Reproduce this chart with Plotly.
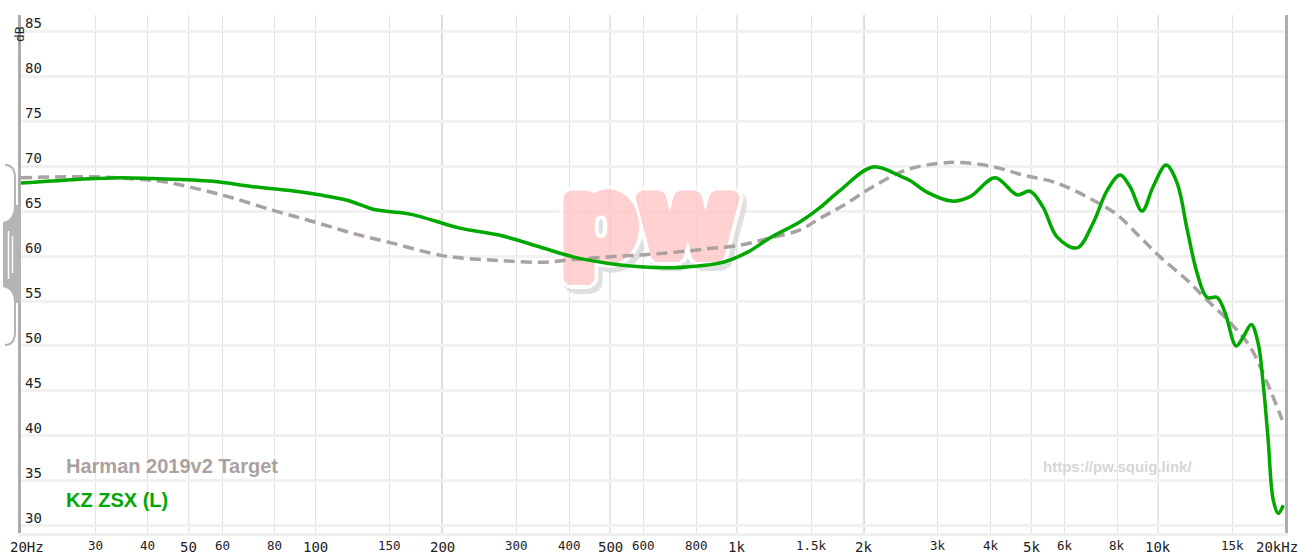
"""
Frequency response graph (squig.link style): KZ ZSX (L) vs Harman 2019v2 target.
"""
import numpy as np
import plotly.graph_objects as go

# KZ ZSX (L) measurement
kz_freq = [20, 30, 34.4, 41, 57, 71, 86, 102, 119, 137, 153, 170, 220, 274, 341,
           409, 492, 589, 706, 850, 928, 1058, 1198, 1413, 1577, 1758, 2104, 2439,
           2577, 2826, 3243, 3578, 4102, 4624, 4966, 5333, 5757, 6423, 7012, 7568,
           8121, 8576, 9162, 9727, 10443, 11092, 11722, 12372, 13064, 13804, 14416,
           15312, 15918, 16634, 17272, 17744, 18240, 18752, 19278, 19816]
kz_db = [68.1, 68.6, 68.7, 68.6, 68.3, 67.7, 67.3, 66.8, 66.2, 65.2, 64.9, 64.6, 63.1,
         62.3, 61.0, 59.9, 59.2, 58.8, 58.7, 59.0, 59.3, 60.4, 62.0, 63.8, 65.4, 67.3,
         69.9, 68.9, 68.4, 67.1, 66.1, 66.6, 68.7, 66.8, 67.2, 65.4, 62.1, 60.9, 63.7,
         67.3, 69.0, 67.7, 65.0, 67.7, 70.1, 68.1, 62.9, 58.1, 55.4, 55.4, 53.7, 50.0,
         51.0, 52.4, 50.3, 45.9, 39.6, 32.9, 31.4, 32.3]

# Harman 2019v2 target
harman_freq = [20, 30, 36, 43, 51, 62, 79, 99, 123, 153, 197, 220, 274, 341, 409, 492,
               589, 706, 850, 1018, 1198, 1413, 1577, 1788, 2104, 2536, 3036, 3332,
               3990, 4778, 5757, 7012, 7984, 9058, 10112, 11722, 13064, 14826, 16526,
               18146, 19690]
harman_db = [68.7, 68.8, 68.6, 68.3, 67.6, 66.6, 65.1, 63.8, 62.5, 61.4, 60.1, 59.8,
             59.5, 59.3, 59.6, 59.9, 60.1, 60.4, 60.8, 61.2, 62.0, 62.9, 64.2, 65.6,
             67.7, 69.6, 70.3, 70.4, 70.0, 69.0, 68.1, 66.2, 64.6, 62.1, 59.9, 57.3,
             55.1, 52.6, 49.9, 45.9, 41.8]

y_ticks = [30, 35, 40, 45, 50, 55, 60, 65, 70, 75, 80, 85]
x_major = [20, 50, 100, 200, 500, 1000, 2000, 5000, 10000, 20000]
x_major_labels = ["20Hz", "50", "100", "200", "500", "1k", "2k", "5k", "10k", "20kHz"]
x_minor = [30, 40, 60, 80, 150, 300, 400, 600, 800, 1500, 3000, 4000, 6000, 8000, 15000]
x_minor_labels = ["30", "40", "60", "80", "150", "300", "400", "600", "800", "1.5k",
                  "3k", "4k", "6k", "8k", "15k"]

GREEN = "#00a800"
TARGET_GREY = "#aaa1a1"
MONO = "DejaVu Sans Mono"

# plot area in pixels
W, H = 1299, 560
L, R, T, B = 21, 1285, 15, 533


def px(x):
    return (x - L) / (R - L)


def py(y):
    return (B - y) / (B - T)


def ring(radius, color, dx=0, dy=0, blur=0, steps=16):
    """Text-shadow ring used to thicken / outline the watermark glyphs."""
    out = []
    for k in range(steps):
        a = 2 * np.pi * k / steps
        out.append(f"{dx + radius * np.cos(a):.1f}px {dy + radius * np.sin(a):.1f}px {blur}px {color}")
    return out


PINK = "#ffc6c6"
watermark_shadow = ", ".join(
    ring(2, PINK) + ring(4, PINK) + ring(6, PINK) + ring(8, "#ffffff") + ring(10, "#ffffff")
    + ring(10, "#d9d9d9", dx=4, dy=5, blur=1)
)

fig = go.Figure()

# watermark, under the curves
fig.add_trace(go.Scatter(
    x=[619], y=[63.0], mode="text", text=["pw"], hoverinfo="skip",
    textposition="middle center", opacity=0.8,
    textfont=dict(family="DejaVu Sans", size=108, color=PINK, weight="bold",
                  shadow=watermark_shadow),
    showlegend=False,
))

fig.add_trace(go.Scatter(
    x=harman_freq, y=harman_db, mode="lines", name="Harman 2019v2 Target",
    line=dict(color=TARGET_GREY, width=3.5, dash="11px,6px", shape="spline", smoothing=1),
    hoverinfo="skip",
))
fig.add_trace(go.Scatter(
    x=kz_freq, y=kz_db, mode="lines", name="KZ ZSX (L)",
    line=dict(color=GREEN, width=3.5, shape="spline", smoothing=1),
    hoverinfo="skip",
))

# stronger vertical grid lines
for f in [50, 100, 500, 1000, 5000, 10000]:
    fig.add_vline(x=f, line_color="#cfcfcf", line_width=1, layer="below")
for f in [200, 2000]:
    fig.add_vline(x=f, line_color="#a8a8a8", line_width=1.5, layer="below")

annotations = []
# y tick labels, sitting above their grid line
for v in y_ticks:
    annotations.append(dict(
        x=0, xref="paper", y=v, yref="y", xanchor="left", yanchor="bottom",
        xshift=2, yshift=-2, text=str(v), showarrow=False,
        font=dict(family=MONO, size=14, color="#222")))

# x tick labels
for f, lab in zip(x_major, x_major_labels):
    shift = 6 if f == 20 else (-8 if f == 20000 else 0)
    annotations.append(dict(
        x=np.log10(f), xref="x", y=py(547), yref="paper", xanchor="center",
        yanchor="middle", xshift=shift, text=lab, showarrow=False,
        font=dict(family=MONO, size=14, color="#222")))
for f, lab in zip(x_minor, x_minor_labels):
    annotations.append(dict(
        x=np.log10(f), xref="x", y=py(545.5), yref="paper", xanchor="center",
        yanchor="middle", text=lab, showarrow=False,
        font=dict(family=MONO, size=12.5, color="#222")))

annotations.append(dict(
    x=px(10.5), xref="paper", y=py(24), yref="paper", text="dB", textangle=-90,
    showarrow=False, font=dict(family=MONO, size=13, color="#222")))

# legend labels
annotations.append(dict(
    x=px(64), xref="paper", y=py(466), yref="paper", xanchor="left", yanchor="middle",
    text="<b>Harman 2019v2 Target</b>", showarrow=False,
    font=dict(family="Liberation Sans", size=20, color=TARGET_GREY)))
annotations.append(dict(
    x=px(64), xref="paper", y=py(500), yref="paper", xanchor="left", yanchor="middle",
    text="<b>KZ ZSX (L)</b>", showarrow=False,
    font=dict(family="Liberation Sans", size=20, color=GREEN)))
annotations.append(dict(
    x=px(1194), xref="paper", y=py(466), yref="paper", xanchor="right", yanchor="middle",
    text="<b>https://pw.squig.link/</b>", showarrow=False,
    font=dict(family="Liberation Sans", size=15, color="#d6d6d6")))

# y scaling handle on the left edge
HANDLE = "#b4b4b4"


def path(points, close=False):
    parts = []
    for cmd, a, b in points:
        xy = f"{px(a):.5f},{py(b):.5f}"
        parts.append(f"{cmd} {xy}" if cmd else xy)
    return " ".join(parts) + (" Z" if close else "")


shapes = [
    dict(type="path", xref="paper", yref="paper", line=dict(color=HANDLE, width=2),
         path=path([("M", 5, 165), ("Q", 15, 165), ("", 15, 178), ("L", 15, 212)])),
    dict(type="path", xref="paper", yref="paper", line=dict(color=HANDLE, width=2),
         path=path([("M", 15, 298), ("L", 15, 332), ("Q", 15, 345), ("", 5, 345)])),
    dict(type="path", xref="paper", yref="paper", line=dict(width=0), fillcolor=HANDLE,
         path=path([("M", 14, 205), ("Q", 14, 220), ("", 3, 222), ("L", 3, 287),
                    ("Q", 14, 289), ("", 14, 303), ("L", 21, 303), ("L", 21, 205)],
                   close=True)),
    dict(type="line", xref="paper", yref="paper", x0=px(8.5), x1=px(8.5),
         y0=py(231), y1=py(279), line=dict(color="white", width=1.5)),
    dict(type="line", xref="paper", yref="paper", x0=px(12.5), x1=px(12.5),
         y0=py(236), y1=py(273), line=dict(color="white", width=1.5)),
]

fig.update_layout(
    width=W, height=H,
    margin=dict(l=L, r=W - R, t=T, b=H - B),
    paper_bgcolor="white", plot_bgcolor="white",
    showlegend=False,
    annotations=annotations,
    shapes=list(fig.layout.shapes) + shapes,
    xaxis=dict(type="log", range=[np.log10(20), np.log10(20000)],
               tickvals=x_major + x_minor, showticklabels=False, ticks="",
               showgrid=True, gridcolor="#e3e3e3", gridwidth=1,
               showline=True, linecolor="#f0f0f0", linewidth=3, zeroline=False),
    yaxis=dict(range=[29.22, 86.78], tickvals=y_ticks, showticklabels=False, ticks="",
               showgrid=True, gridcolor="#f1f1f1", gridwidth=3, zeroline=False,
               showline=True, linecolor="#adadad", linewidth=3, mirror=True),
)

# page without the default body margin, so the figure sits at the window's corner
fig.write_html("out.html", config={"displayModeBar": False},
               post_script="document.body.style.margin='0';document.body.style.overflow='hidden';")
